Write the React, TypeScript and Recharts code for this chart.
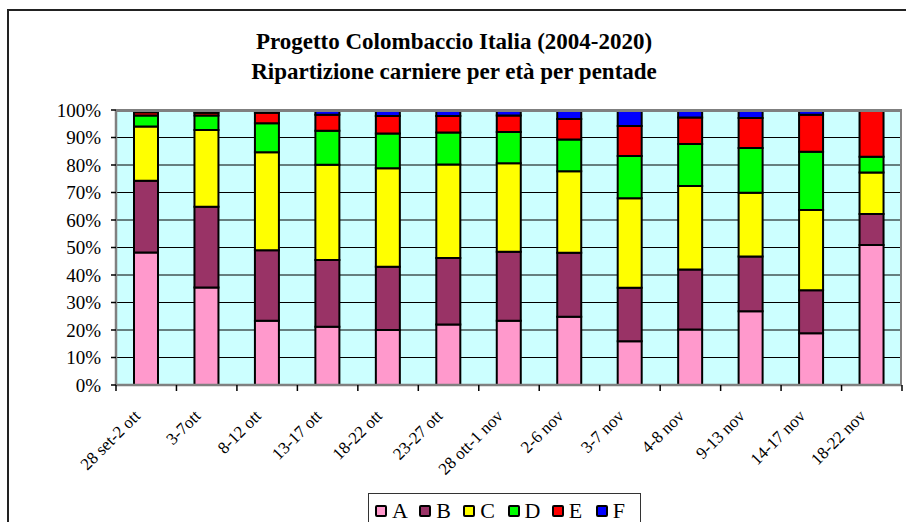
import { Bar, BarChart, CartesianGrid, XAxis, YAxis } from "recharts"

// pentadi e percentuali per classe d'età
const pentadi = [
  "28 set-2 ott", "3-7ott", "8-12 ott", "13-17 ott", "18-22 ott", "23-27 ott",
  "28 ott-1 nov", "2-6 nov", "3-7 nov", "4-8 nov", "9-13 nov", "14-17 nov", "18-22 nov",
]
const etaA = [48.2, 35.5, 23.4, 21.2, 20.0, 22.0, 23.4, 24.8, 15.9, 20.2, 26.8, 18.8, 50.9]
const etaB = [26.1, 29.3, 25.6, 24.3, 23.0, 24.2, 25.1, 23.3, 19.5, 21.8, 19.9, 15.7, 11.3]
const etaC = [19.7, 27.9, 35.6, 34.6, 35.8, 34.0, 32.1, 29.6, 32.5, 30.4, 23.2, 29.1, 15.1]
const etaD = [4.0, 5.3, 10.6, 12.4, 12.7, 11.6, 11.4, 11.6, 15.4, 15.2, 16.3, 21.2, 5.7]
const etaE = [1.2, 1.0, 3.8, 5.8, 6.3, 6.0, 6.0, 7.4, 10.9, 9.7, 10.9, 13.5, 17.0]
const etaF = [0.8, 1.0, 1.0, 1.7, 2.2, 2.2, 2.0, 3.3, 5.8, 2.7, 2.9, 1.7, 0.0]
const yTicks = [0, 10, 20, 30, 40, 50, 60, 70, 80, 90, 100]

const series = [
  { key: "A", values: etaA, color: "#FF99CC" },
  { key: "B", values: etaB, color: "#993366" },
  { key: "C", values: etaC, color: "#FFFF00" },
  { key: "D", values: etaD, color: "#00FF00" },
  { key: "E", values: etaE, color: "#FF0000" },
  { key: "F", values: etaF, color: "#0000FF" },
]

const data = pentadi.map((p, i) => {
  const row: Record<string, string | number> = { pentade: p }
  series.forEach((s) => (row[s.key] = s.values[i]))
  return row
})

const FONT = "'Liberation Serif', 'DejaVu Serif', serif"

function XTick(props: any) {
  const { x, y, payload, index } = props
  const half = payload?.offset ?? 0
  const ax = x - 5
  const ay = y + 32
  return (
    <g>
      <line x1={x - half} x2={x - half} y1={y} y2={y + 6} stroke="#000" strokeWidth={1.5} />
      {index === pentadi.length - 1 && (
        <line x1={x + half} x2={x + half} y1={y} y2={y + 6} stroke="#000" strokeWidth={1.5} />
      )}
      <text
        x={ax}
        y={ay}
        textAnchor="end"
        transform={`rotate(-45, ${ax}, ${ay})`}
        fontSize={17}
        fontFamily={FONT}
        fill="#000"
      >
        {payload.value}
      </text>
    </g>
  )
}

export default function App() {
  return (
    <div
      style={{
        position: "absolute",
        left: 0,
        top: 0,
        width: 906,
        height: 522,
        overflow: "hidden",
        background: "#fff",
        fontFamily: FONT,
      }}
    >
      <div
        style={{
          position: "absolute",
          left: 7,
          top: 9,
          width: 1000,
          height: 700,
          border: "2px solid #222",
        }}
      />
      <div
        style={{
          position: "absolute",
          left: 0,
          width: 908,
          top: 27,
          textAlign: "center",
          fontWeight: "bold",
          fontSize: 23,
          lineHeight: "30px",
          color: "#000",
        }}
      >
        Progetto Colombaccio Italia (2004-2020)
        <br />
        Ripartizione carniere per età per pentade
      </div>
      <div style={{ position: "absolute", left: 0, top: 0 }}>
        <BarChart
          width={906}
          height={522}
          data={data}
          margin={{ top: 110, right: 4, left: 46, bottom: 37 }}
          barSize={24}
        >
          <CartesianGrid
            vertical={false}
            stroke="#000"
            strokeWidth={1.2}
            fill="#CCFFFF"
            fillOpacity={1}
          />
          <XAxis
            dataKey="pentade"
            interval={0}
            height={100}
            tickLine={false}
            tickSize={0}
            tickMargin={0}
            tick={<XTick />}
            axisLine={{ stroke: "#808080", strokeWidth: 2.5 }}
          />
          <YAxis
            width={70}
            domain={[0, 100]}
            ticks={yTicks}
            interval={0}
            allowDataOverflow
            tickFormatter={(v: number) => `${v}%`}
            tickSize={5}
            tickMargin={10}
            tickLine={{ stroke: "#000", strokeWidth: 1.5 }}
            axisLine={{ stroke: "#808080", strokeWidth: 2.5 }}
            tick={{ fontSize: 19, fontFamily: FONT, fill: "#000" }}
          />
          {series.map((s) => (
            <Bar
              key={s.key}
              dataKey={s.key}
              stackId="eta"
              fill={s.color}
              stroke="#000"
              strokeWidth={2}
              isAnimationActive={false}
            />
          ))}
        </BarChart>
      </div>
      <div
        style={{
          position: "absolute",
          left: 116,
          top: 110,
          width: 786,
          height: 275,
          boxSizing: "border-box",
          borderTop: "2.5px solid #808080",
          borderRight: "2.5px solid #808080",
          pointerEvents: "none",
        }}
      />
      <div
        style={{
          position: "absolute",
          left: 368,
          top: 493,
          width: 273,
          height: 60,
          border: "1px solid #333",
          display: "flex",
          alignItems: "flex-start",
          paddingLeft: 6,
          paddingTop: 6,
          boxSizing: "border-box",
        }}
      >
        {series.map((s) => (
          <div key={s.key} style={{ display: "flex", alignItems: "center", width: 45 }}>
            <span
              style={{
                display: "inline-block",
                width: 8,
                height: 8,
                border: "2px solid #000",
                borderRadius: 2,
                background: s.color,
                marginRight: 5,
              }}
            />
            <span style={{ fontSize: 22, lineHeight: "22px", color: "#000" }}>{s.key}</span>
          </div>
        ))}
      </div>
    </div>
  )
}
